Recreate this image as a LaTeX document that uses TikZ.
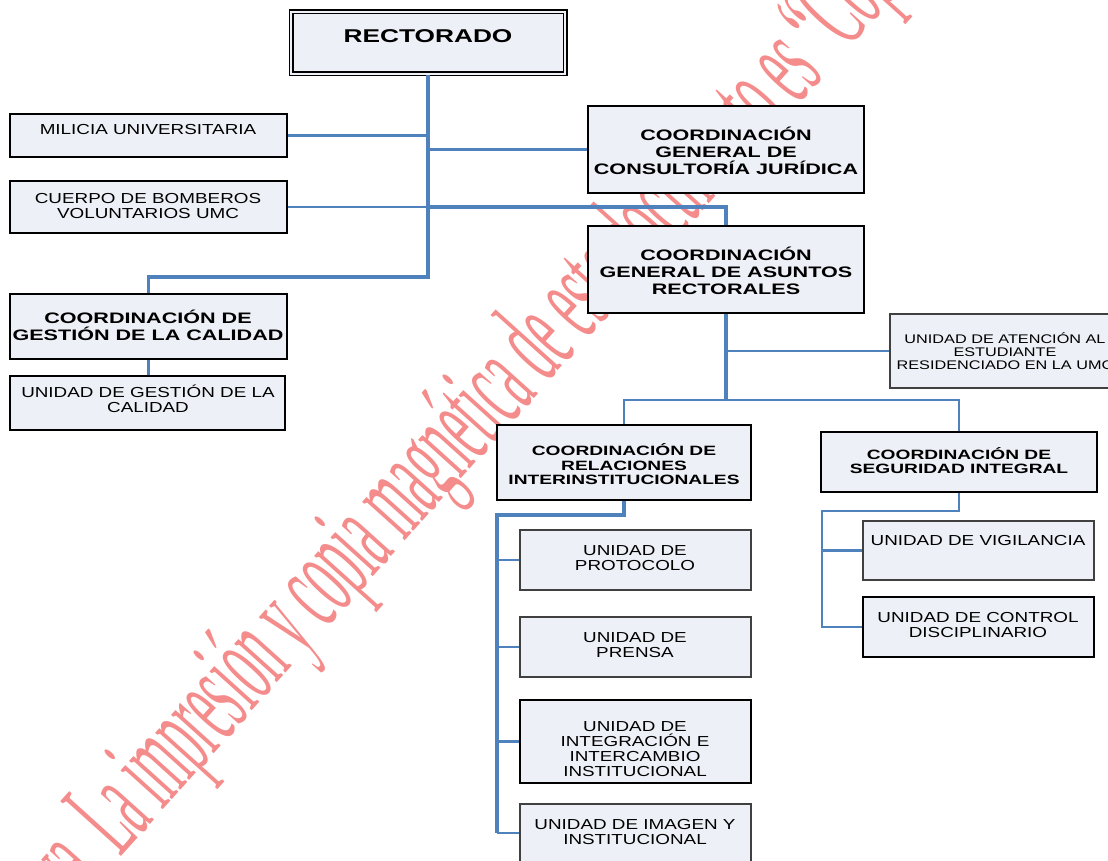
\documentclass[tikz,border=0pt]{standalone}
\usepackage{fontspec}
\setmainfont{Liberation Sans}
\newfontfamily\wsans[FakeStretch=1.3]{Liberation Sans}
\newfontfamily\wsansB[FakeStretch=1.42]{Liberation Sans}
\newfontfamily\wmfont[FakeStretch=0.39]{Liberation Serif}
\definecolor{boxfill}{RGB}{237,240,246}
\definecolor{connblue}{RGB}{79,129,189}
\definecolor{wmred}{RGB}{245,140,140}
\tikzset{
  box/.style={draw=black, line width=2pt, fill=boxfill, inner sep=0pt},
  unitbox/.style={draw=black!75, line width=1.3pt, fill=boxfill, inner sep=0pt},
  txt/.style={align=center, inner sep=0pt, text=black},
  reg/.style={txt, font=\wsans\fontsize{14.5}{15}\selectfont},
  small/.style={txt, font=\wsans\fontsize{12.5}{13}\selectfont},
  bold/.style={txt, font=\wsansB\bfseries\fontsize{15.2}{17}\selectfont},
  boldsm/.style={txt, font=\wsansB\bfseries\fontsize{13.5}{14.5}\selectfont},
  conn/.style={draw=connblue, line width=2.2pt},
  connthick/.style={draw=connblue, line width=3.2pt},
  wm/.style={inner sep=0pt, text=wmred, font=\wmfont\fontsize{125}{125}\selectfont}
}
\begin{document}
\begin{tikzpicture}[x=1pt, y=-1pt]
\useasboundingbox (0,0) rectangle (1108,861);
\clip (0,0) rectangle (1108,861);
% watermark
\node[wm, rotate=48, anchor=base west] (wmk) at (120,858)
  {\llap{va.\ }La impresión y copia magnética de este documento es “Copia No Controlada”};

% boxes
\node[box, draw=black, double=boxfill, double distance=2.4pt, line width=1.3pt,
      minimum width=274pt, minimum height=62pt] (rect) at (428,43) {};
\node[box, minimum width=277pt, minimum height=43pt] (mil) at (148.5,135.5) {};
\node[box, minimum width=277pt, minimum height=52pt] (cue) at (148.5,207) {};
\node[box, minimum width=277pt, minimum height=65pt] (gca) at (148.5,326.5) {};
\node[box, minimum width=275pt, minimum height=54pt] (ugc) at (147.5,403) {};
\node[box, minimum width=276pt, minimum height=87pt] (cjur) at (726,149.5) {};
\node[box, minimum width=276pt, minimum height=87pt] (casr) at (726,269.5) {};
\node[unitbox, minimum width=230pt, minimum height=74pt] (uate) at (1005,351) {};
\node[box, minimum width=254pt, minimum height=75pt] (crel) at (624,462.5) {};
\node[box, minimum width=276pt, minimum height=60pt] (cseg) at (959,462) {};
\node[unitbox, minimum width=231pt, minimum height=60pt] (upro) at (635.5,560) {};
\node[unitbox, minimum width=231pt, minimum height=60pt] (upre) at (635.5,647) {};
\node[unitbox, draw=black, minimum width=231pt, minimum height=83pt] (uint) at (635.5,741.5) {};
\node[unitbox, minimum width=231pt, minimum height=71pt] (uima) at (635.5,839.5) {};
\node[unitbox, minimum width=231pt, minimum height=59pt] (uvig) at (978.5,550.5) {};
\node[box, minimum width=231pt, minimum height=60pt] (ucon) at (978.5,627) {};

% junction coordinates
\coordinate (j1) at (428,277);
\coordinate (j2) at (726,400);
\coordinate (j3) at (497,515);
\coordinate (b4) at (497,833);
\coordinate (j4) at (822,511);

% connectors
\draw[connthick] (rect.south) -- (j1) -| (gca.north);
\draw[conn] (mil.east) -- (mil.east -| rect.south);
\draw[conn] (cjur.west -| rect.south) -- (cjur.west);
\draw[conn] (cue.east) -- (cue.east -| rect.south);
\draw[connthick] (cue.east -| rect.south) -| (casr.north);
\draw[conn] (gca.south) -- (gca.south |- ugc.north);
\draw[connthick] (casr.south) -- (j2);
\draw[conn] (casr.south |- uate.west) -- (uate.west);
\draw[conn] (crel.north) |- (j2) -| (cseg.north);
\draw[connthick] (crel.south) |- (j3) -- (b4);
\draw[conn] (j3 |- upro.west) -- (upro.west);
\draw[conn] (j3 |- upre.west) -- (upre.west);
\draw[conn] (j3 |- uint.west) -- (uint.west);
\draw[conn] (b4) -- (b4 -| uima.west);
\draw[conn] (cseg.south) |- (j4) -- (j4 |- ucon.west) -- (ucon.west);
\draw[conn] (j4 |- uvig.west) -- (uvig.west);

% texts
\node[txt, font=\wsansB\bfseries\fontsize{18.5}{20}\selectfont] (trect) at (428,36) {RECTORADO};
\node[reg] (tmil) at (148,130) {MILICIA UNIVERSITARIA};
\node[reg] (tcue) at (148,206.5) {CUERPO DE BOMBEROS\\VOLUNTARIOS UMC};
\node[bold] (tgca) at (148,325) {COORDINACIÓN DE\\GESTIÓN DE LA CALIDAD};
\node[reg] (tugc) at (148,398.5) {UNIDAD DE GESTIÓN DE LA\\CALIDAD};
\node[bold] (tcjur) at (726,151) {COORDINACIÓN\\GENERAL DE\\CONSULTORÍA JURÍDICA};
\node[bold] (tcasr) at (726,271) {COORDINACIÓN\\GENERAL DE ASUNTOS\\RECTORALES};
\node[small] (tuate) at (1005,351) {UNIDAD DE ATENCIÓN AL\\ESTUDIANTE\\RESIDENCIADO EN LA UMC};
\node[boldsm] (tcrel) at (624,464.5) {COORDINACIÓN DE\\RELACIONES\\INTERINSTITUCIONALES};
\node[boldsm] (tcseg) at (959,460.5) {COORDINACIÓN DE\\SEGURIDAD INTEGRAL};
\node[reg] (tupro) at (635,558.5) {UNIDAD DE\\PROTOCOLO};
\node[reg] (tupre) at (635,645.5) {UNIDAD DE\\PRENSA};
\node[reg] (tuint) at (635,749) {UNIDAD DE\\INTEGRACIÓN E\\INTERCAMBIO\\INSTITUCIONAL};
\node[reg] (tuima) at (635,832.5) {UNIDAD DE IMAGEN Y\\INSTITUCIONAL};
\node[reg] (tuvig) at (978,541) {UNIDAD DE VIGILANCIA};
\node[reg] (tucon) at (978,625) {UNIDAD DE CONTROL\\DISCIPLINARIO};
\end{tikzpicture}
\end{document}
